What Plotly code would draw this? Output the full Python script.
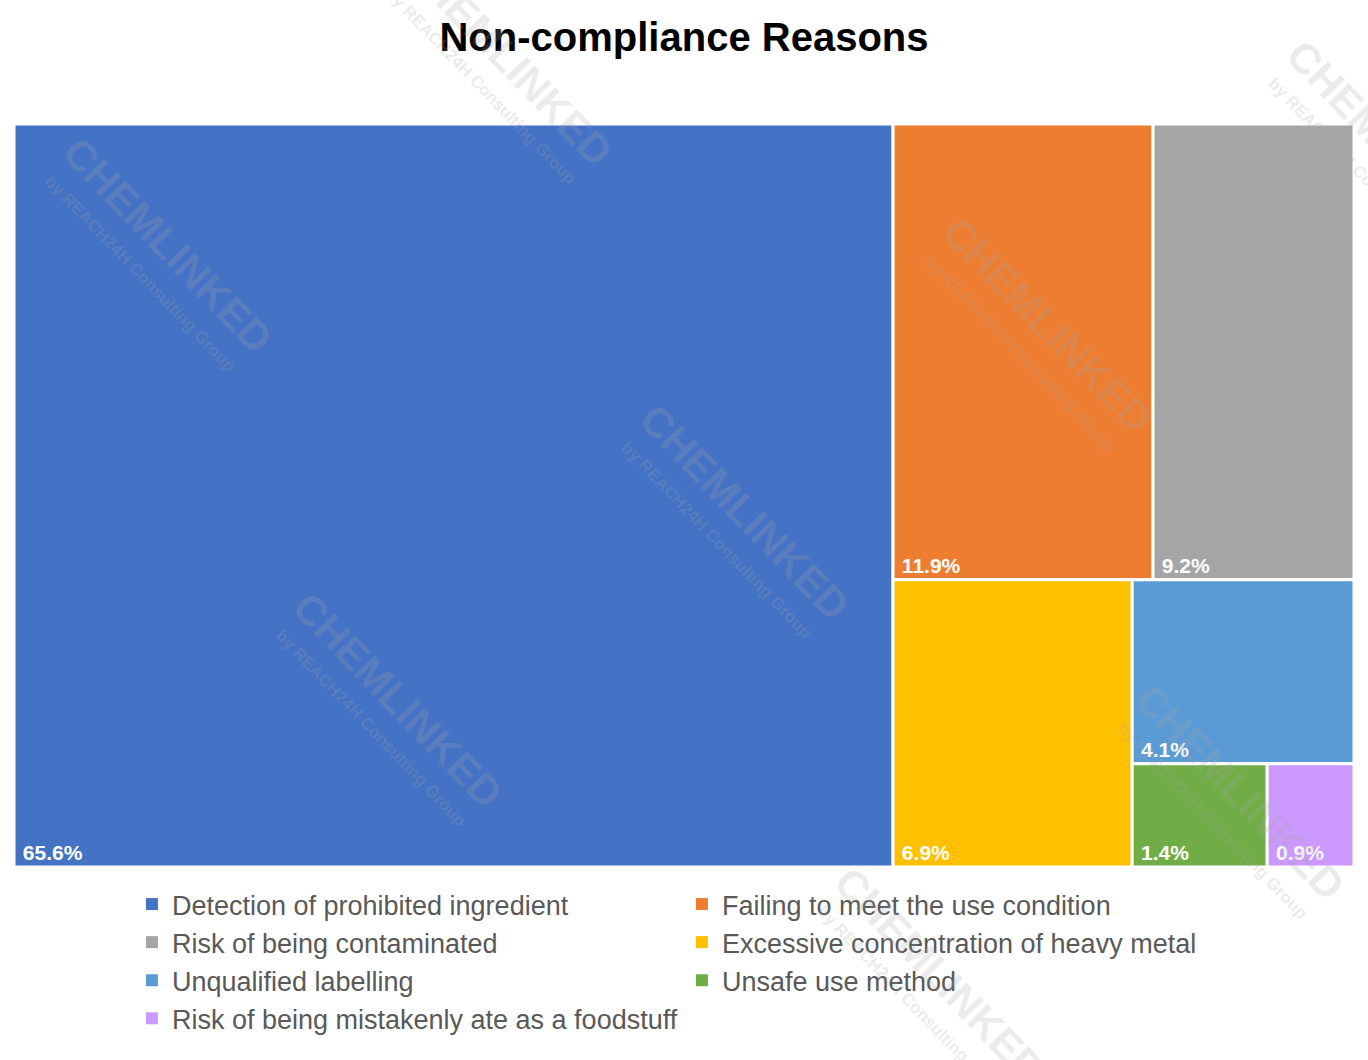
import plotly.graph_objects as go

# ---- data ----
categories = [
    "Detection of prohibited ingredient",
    "Failing to meet the use condition",
    "Risk of being contaminated",
    "Excessive concentration of heavy metal",
    "Unqualified labelling",
    "Unsafe use method",
    "Risk of being mistakenly ate as a foodstuff",
]
shares = [65.6, 11.9, 9.2, 6.9, 4.1, 1.4, 0.9]
colors = ["#4472C4", "#ED7D31", "#A5A5A5", "#FFC000", "#5B9BD5", "#70AD47", "#CC99FF"]
title_text = "Non-compliance Reasons"

FONT = "Liberation Sans, Arial, sans-serif"

W, H = 1368, 1060
ML, MR, MT, MB = 14, 14, 124, 0
PW, PH = W - ML - MR, H - MT - MB

fig = go.Figure()

fig.add_trace(go.Treemap(
    labels=categories,
    parents=[""] * len(categories),
    values=shares,
    marker=dict(colors=colors, line=dict(color="white", width=3),
                pad=dict(t=0, l=0, r=0, b=0)),
    texttemplate="\u00a0%{value}%",
    textposition="bottom left",
    textfont=dict(family=FONT, size=21, color="white", weight="bold"),
    tiling=dict(packing="squarify", squarifyratio=1.618034, pad=0),
    pathbar=dict(visible=False),
    sort=True,
    hoverinfo="label+value",
    domain=dict(x=[0, 1], y=[(H - 867) / PH, 1]),
))

# legend entries
for name, c in zip(categories, colors):
    fig.add_trace(go.Scatter(
        x=[None], y=[None], mode="markers", name=name,
        marker=dict(symbol="square", size=12, color=c),
        showlegend=True,
    ))

# watermark (pixel centres converted to paper coords)
wm_pos = [(168, 245), (508, 58), (1048, 325), (745, 512), (398, 700),
          (1240, 792), (1392, 148), (940, 975)]
wm_color = "rgba(166,166,166,0.22)"
annotations = []
for (px, py) in wm_pos:
    annotations.append(dict(
        x=(px - ML) / PW, y=(H - py) / PH, xref="paper", yref="paper",
        text="CHEMLINKED", showarrow=False, textangle=46,
        font=dict(family=FONT, size=42, color=wm_color, weight="bold"),
        xanchor="center", yanchor="middle",
    ))
    annotations.append(dict(
        x=(px - 28 - ML) / PW, y=(H - py - 28) / PH, xref="paper", yref="paper",
        text="by REACH24H Consulting Group", showarrow=False, textangle=46,
        font=dict(family=FONT, size=17, color=wm_color, weight="bold"),
        xanchor="center", yanchor="middle",
    ))

fig.update_layout(
    width=W, height=H,
    margin=dict(l=ML, r=MR, t=MT, b=MB),
    paper_bgcolor="white", plot_bgcolor="white",
    title=dict(text=title_text, x=0.5, xanchor="center", y=1 - 37 / H, yanchor="middle",
               yref="container",
               font=dict(family=FONT, size=40, color="black", weight="bold")),
    xaxis=dict(visible=False, domain=[0, 0.01]),
    yaxis=dict(visible=False, domain=[0, 0.01]),
    legend=dict(
        orientation="h", x=0.088, xanchor="left", y=(H - 880) / PH, yanchor="top",
        entrywidth=505, entrywidthmode="pixels",
        font=dict(family=FONT, size=27, color="#595959"),
        itemsizing="constant", bgcolor="rgba(0,0,0,0)",
    ),
    annotations=annotations,
)

fig.write_html("out.html")
